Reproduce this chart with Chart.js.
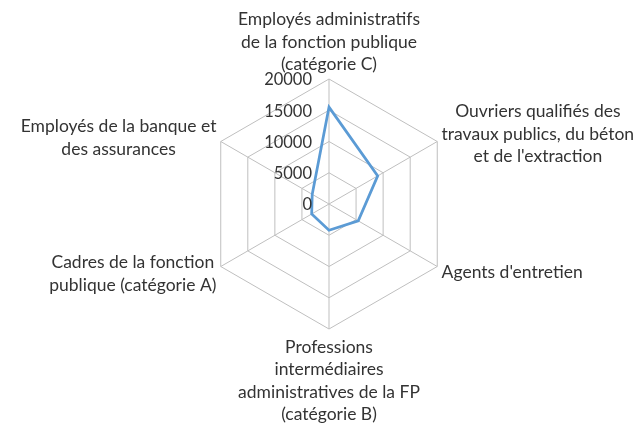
<!DOCTYPE html>
<html>
<head>
<meta charset="utf-8">
<script src="https://cdn.jsdelivr.net/npm/chart.js@4"></script>
<style>
html,body{margin:0;padding:0;background:#fff;}
#wrap{width:638px;height:427px;position:relative;}
</style>
</head>
<body>
<div id="wrap"><canvas id="c" width="638" height="427"></canvas></div>
<script>
const categories = [
  ["Employés administratifs", "de la fonction publique", "(catégorie C)"],
  ["Ouvriers qualifiés des", "travaux publics, du béton", "et de l'extraction"],
  ["Agents d'entretien"],
  ["Professions", "intermédiaires", "administratives de la FP", "(catégorie B)"],
  ["Cadres de la fonction", "publique (catégorie A)"],
  ["Employés de la banque et", "des assurances"]
];
const values = [15500, 9000, 5400, 4200, 3200, 3100];
const tickValues = [0, 5000, 10000, 15000, 20000];

const FONT = '17.5px Lato';
const TICKFONT = '16.5px Lato';
const TEXT = '#333333';
const LH = 22.5;

const labelPlugin = {
  id: 'customLabels',
  afterDraw(chart) {
    const s = chart.scales.r;
    const ctx = chart.ctx;
    ctx.save();
    ctx.fillStyle = TEXT;
    // tick labels
    ctx.font = TICKFONT;
    ctx.textAlign = 'right';
    ctx.textBaseline = 'middle';
    s.ticks.forEach(t => {
      const y = s.yCenter - s.getDistanceFromCenterForValue(t.value);
      ctx.fillText(String(t.value), s.xCenter - 17, y + 1);
    });
    // point labels
    ctx.font = FONT;
    ctx.textAlign = 'center';
    categories.forEach((lines, i) => {
      const pt = s.getPointPosition(i, s.drawingArea + 5);
      const w = Math.max(...lines.map(l => ctx.measureText(l).width));
      const h = lines.length * LH;
      let cx, top;
      const n = categories.length;
      if (i === 0) { cx = pt.x; top = pt.y - h + 2; }
      else if (i === n / 2) { cx = pt.x; top = pt.y + 2; }
      else if (i < n / 2) {
        cx = pt.x + w / 2;
        top = pt.y - h / 2 + (i === 1 ? -5 : 3);
      } else {
        cx = pt.x - w / 2;
        top = pt.y - h / 2 + (i === 4 ? 5 : -1);
      }
      lines.forEach((l, k) => ctx.fillText(l, cx, top + LH * k + LH / 2));
    });
    ctx.restore();
  }
};

new Chart(document.getElementById('c'), {
  type: 'radar',
  data: {
    labels: categories,
    datasets: [{
      data: values,
      borderColor: '#5b9bd5',
      borderWidth: 2.75,
      backgroundColor: 'rgba(0,0,0,0)',
      pointRadius: 0,
      fill: false,
      tension: 0
    }]
  },
  options: {
    responsive: false,
    animation: false,
    layout: { padding: { top: 79, bottom: 97, left: 203, right: 182 } },
    plugins: { legend: { display: false }, tooltip: { enabled: false } },
    scales: {
      r: {
        min: 0,
        max: 20000,
        afterBuildTicks(scale) { scale.ticks = tickValues.map(v => ({ value: v })); },
        ticks: { display: false, stepSize: 5000 },
        grid: { color: '#bfbfbf', lineWidth: 1 },
        angleLines: { color: '#bfbfbf', lineWidth: 1 },
        pointLabels: { display: false }
      }
    }
  },
  plugins: [labelPlugin]
});
</script>
</body>
</html>
